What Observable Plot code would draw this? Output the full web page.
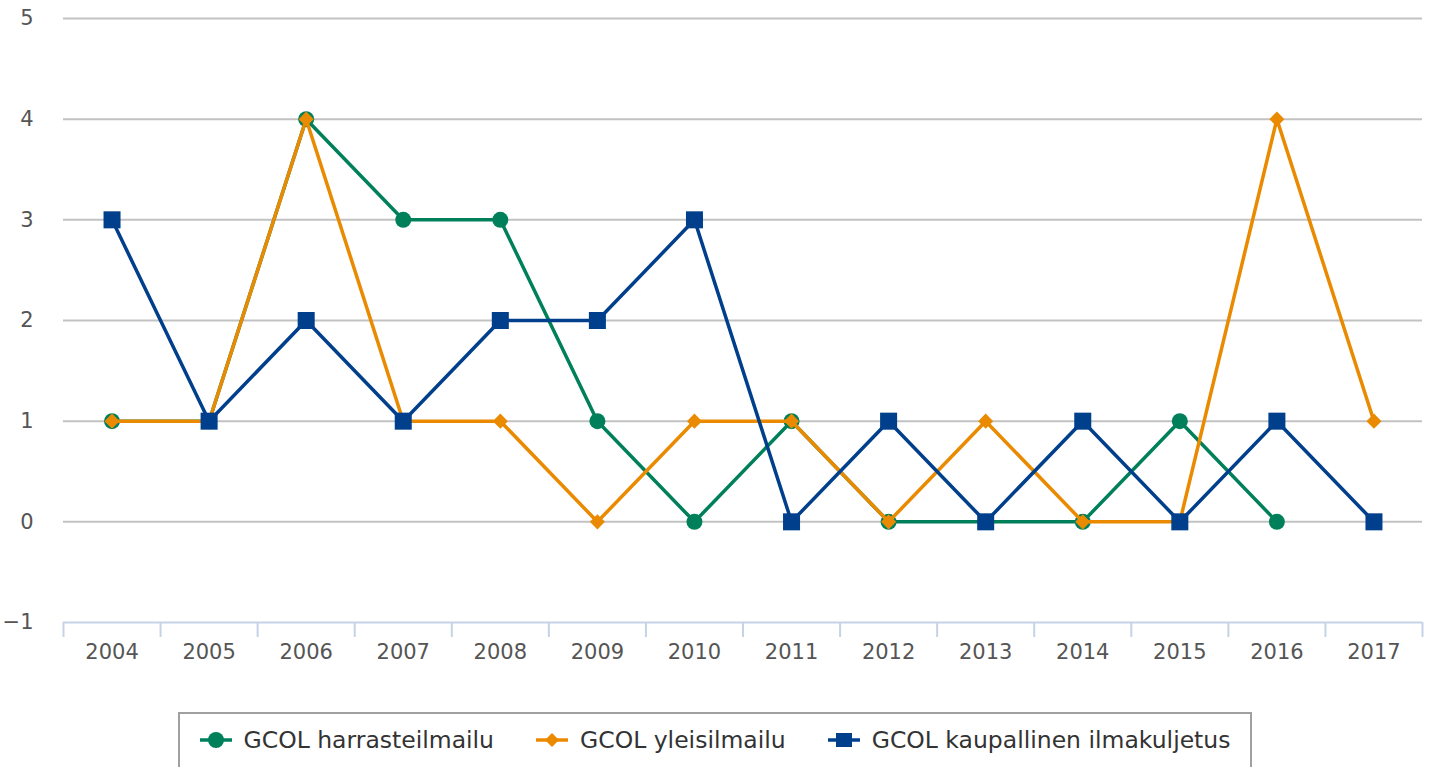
<!DOCTYPE html>
<html>
<head>
<meta charset="utf-8">
<script src="https://cdn.jsdelivr.net/npm/d3@7"></script>
<script src="https://cdn.jsdelivr.net/npm/@observablehq/plot@0.6"></script>
<style>
  html, body { margin: 0; padding: 0; background: #fff; }
  body { width: 1435px; height: 767px; overflow: hidden; font-family: "DejaVu Sans", sans-serif; }
  #legend {
    position: absolute; left: 178px; top: 712px; width: 1074px; height: 70px;
    border: 2px solid #a0a0a0; box-sizing: border-box;
    display: flex; align-items: flex-start; justify-content: center; gap: 42px;
    padding-top: 12px; font-size: 23.5px; line-height: 28px; color: #333;
  }
  .item { display: flex; align-items: center; gap: 12px; white-space: nowrap; }
  .item svg { display: block; }
</style>
</head>
<body>
<div id="chart"></div>
<div id="legend"></div>
<script>
const years = [2004, 2005, 2006, 2007, 2008, 2009, 2010, 2011, 2012, 2013, 2014, 2015, 2016, 2017];
const harrasteilmailu = [1, 1, 4, 3, 3, 1, 0, 1, 0, 0, 0, 1, 0, null];
const yleisilmailu = [1, 1, 4, 1, 1, 0, 1, 1, 0, 1, 0, 0, 4, 1];
const kaupallinen = [3, 1, 2, 1, 2, 2, 3, 0, 1, 0, 1, 0, 1, 0];
const yTicks = [-1, 0, 1, 2, 3, 4, 5];
const seriesNames = ["GCOL harrasteilmailu", "GCOL yleisilmailu", "GCOL kaupallinen ilmakuljetus"];
const colors = ["#00805a", "#ea8a00", "#003f8c"];

const toRows = vals => years.map((y, i) => ({year: y, value: vals[i]}));
const sGreen = toRows(harrasteilmailu);
const sOrange = toRows(yleisilmailu);
const sBlue = toRows(kaupallinen);
const boundaries = years.map(y => y - 0.5).concat([years[years.length - 1] + 0.5]);

const chart = Plot.plot({
  width: 1435,
  height: 690,
  marginTop: 18,
  marginBottom: 68,
  marginLeft: 63,
  marginRight: 13,
  style: {fontFamily: "DejaVu Sans, sans-serif", fontSize: "21px", color: "#555", background: "#fff"},
  x: {type: "linear", domain: [years[0] - 0.5, years[years.length - 1] + 0.5]},
  y: {domain: [-1, 5]},
  marks: [
    Plot.gridY(yTicks.filter(d => d > -1), {stroke: "#c2c2c2", strokeOpacity: 1, strokeWidth: 2}),
    Plot.axisY(yTicks, {tickSize: 0, tickPadding: 30, fontSize: 21, tickFormat: d => d < 0 ? "\u2212" + Math.abs(d) : String(d), fill: "#555", label: null}),
    Plot.axisX(boundaries, {tickSize: 15, tickFormat: () => "", stroke: "#c5d3e6", strokeWidth: 2, strokeOpacity: 1, label: null}),
    Plot.ruleY([-1], {stroke: "#c5d3e6", strokeWidth: 2}),
    Plot.axisX(years, {tickSize: 0, tickPadding: 22, fontSize: 21, tickFormat: d => String(d), fill: "#555", label: null}),
    Plot.line(sGreen, {x: "year", y: "value", stroke: colors[0], strokeWidth: 3.5}),
    Plot.dot(sGreen, {x: "year", y: "value", symbol: "circle", r: 8, fill: colors[0], stroke: "none"}),
    Plot.line(sOrange, {x: "year", y: "value", stroke: colors[1], strokeWidth: 3.5}),
    Plot.dot(sOrange, {x: "year", y: "value", symbol: "diamond2", r: 6.8, fill: colors[1], stroke: "none"}),
    Plot.line(sBlue, {x: "year", y: "value", stroke: colors[2], strokeWidth: 3.5}),
    Plot.dot(sBlue, {x: "year", y: "value", symbol: "square", r: 9.6, fill: colors[2], stroke: "none"})
  ]
});
document.getElementById("chart").appendChild(chart);

const legend = document.getElementById("legend");
const symbolPaths = [
  '<circle cx="16" cy="14" r="8" fill="C"/>',
  '<path d="M16 7 L23 14 L16 21 L9 14 Z" fill="C"/>',
  '<rect x="8" y="7" width="16" height="14" fill="C"/>'
];
seriesNames.forEach((name, i) => {
  const item = document.createElement("div");
  item.className = "item";
  item.innerHTML = `<svg width="32" height="28"><line x1="0" x2="32" y1="14" y2="14" stroke="${colors[i]}" stroke-width="3.5"/>${symbolPaths[i].replace("C", colors[i])}</svg><span>${name}</span>`;
  legend.appendChild(item);
});
</script>
</body>
</html>
